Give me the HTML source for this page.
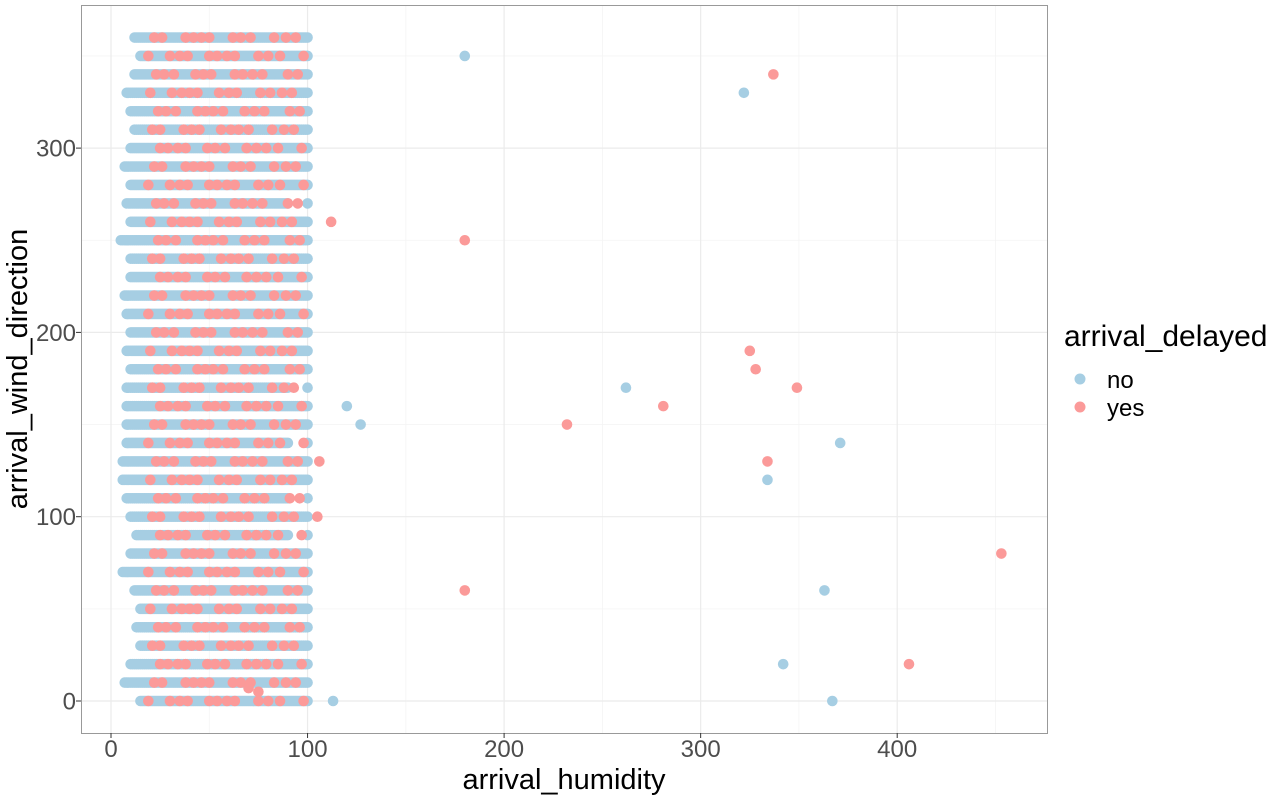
<!DOCTYPE html>
<html><head><meta charset="utf-8"><style>
body{margin:0;background:#fff;font-family:"Liberation Sans",sans-serif}
</style></head><body>
<svg id="chart" width="1280" height="800" xmlns="http://www.w3.org/2000/svg">
<g id="grid"></g>
<g id="band"></g>
<g id="outl"></g>
<rect x="81.5" y="5.5" width="966" height="728" fill="none" stroke="#999" stroke-width="1"/>
<g id="axes"></g>
<text x="564" y="789" font-size="29" text-anchor="middle" fill="#000">arrival_humidity</text>
<text transform="translate(27,369) rotate(-90)" font-size="29" text-anchor="middle" fill="#000">arrival_wind_direction</text>
<g>
<text x="1064" y="346" font-size="30" fill="#000">arrival_delayed</text>
<circle cx="1080" cy="379" r="5.5" fill="#a6cee3"/>
<text x="1107" y="388" font-size="24" fill="#000">no</text>
<circle cx="1080" cy="407" r="5.5" fill="#fb9a99"/>
<text x="1107" y="416" font-size="24" fill="#000">yes</text>
</g>
</svg>
<script>
const xTicks=[0,100,200,300,400];
const yTicks=[0,100,200,300];
const rowDirections=[0,10,20,30,40,50,60,70,80,90,100,110,120,130,140,150,160,170,180,190,200,210,220,230,240,250,260,270,280,290,300,310,320,330,340,350,360];
const rowMinHumidity=[15,7,10,15,13,15,12,6,10,13,10,8,6,6,8,8,8,8,10,8,10,8,7,10,10,5,10,8,10,7,10,12,10,8,12,15,12];
const rowMaxHumidity=[100,100,100,100,100,100,100,100,100,90,100,90,100,100,90,100,100,90,100,100,100,100,100,100,100,100,100,90,100,100,100,100,100,100,100,100,100];
const yesHumidityPattern=[22,28,35,41,47,53,60,66,73,80,88,95];
const outlierNoX=[180,322,262,120,127,371,334,363,342,113,367];
const outlierNoY=[350,330,170,160,150,140,120,60,20,0,0];
const outlierYesX=[337,112,180,325,328,349,281,232,106,334,105,453,180,406,70,75];
const outlierYesY=[340,260,250,190,180,170,160,150,130,130,100,80,60,20,7,5];

const NS="http://www.w3.org/2000/svg";
const sx=v=>111+v*1.9655, sy=v=>701-v*1.843;
const BLUE="#a6cee3", RED="#fb9a99";
function mk(tag,attrs,parent){const e=document.createElementNS(NS,tag);for(const k in attrs)e.setAttribute(k,attrs[k]);parent.appendChild(e);return e;}
const grid=document.getElementById('grid'),axes=document.getElementById('axes');
for(let v=-50;v<=450;v+=100){const x=sx(v);if(x>81&&x<1048){const l=mk('line',{x1:x,x2:x,y1:5,y2:733,stroke:'#f4f4f4','stroke-width':0.8},grid);}}
for(let v=50;v<=350;v+=100){const y=sy(v);const l=mk('line',{x1:81,x2:1048,y1:y,y2:y,stroke:'#f4f4f4','stroke-width':0.8},grid);}
xTicks.forEach(v=>{const x=sx(v);
 const l=mk('line',{x1:x,x2:x,y1:5,y2:733,stroke:'#ebebeb','stroke-width':1.2},grid);
 const t=mk('line',{x1:x,x2:x,y1:733,y2:738,stroke:'#333'},axes);
 const tx=mk('text',{x:x,y:757,'font-size':24,'text-anchor':'middle',fill:'#4d4d4d'},axes);tx.textContent=v;});
yTicks.forEach(v=>{const y=sy(v);
 const l=mk('line',{x1:81,x2:1048,y1:y,y2:y,stroke:'#ebebeb','stroke-width':1.2},grid);
 const t=mk('line',{x1:76,x2:81,y1:y,y2:y,stroke:'#333'},axes);
 const tx=mk('text',{x:76,y:y+8.5,'font-size':24,'text-anchor':'end',fill:'#4d4d4d'},axes);tx.textContent=v;});
const band=document.getElementById('band');
rowDirections.forEach((d,i)=>{
 for(let h=rowMinHumidity[i];h<=rowMaxHumidity[i];h++){
  const c=mk('circle',{cx:sx(h),cy:sy(d),r:5.3,fill:BLUE},band);
  }
 if(rowMaxHumidity[i]<100){const c=mk('circle',{cx:sx(100),cy:sy(d),r:5.3,fill:BLUE},band);}
 yesHumidityPattern.forEach((h,j)=>{const hh=h+((i*3+j*5)%7)-3;if(hh<rowMinHumidity[i]||hh>100)return;
  const c=mk('circle',{cx:sx(hh),cy:sy(d),r:5.3,fill:RED},band);
  });
});
const outl=document.getElementById('outl');
outlierNoX.forEach((x,i)=>{const c=mk('circle',{cx:sx(x),cy:sy(outlierNoY[i]),r:5.3,fill:BLUE},outl);});
outlierYesX.forEach((x,i)=>{const c=mk('circle',{cx:sx(x),cy:sy(outlierYesY[i]),r:5.3,fill:RED},outl);});
</script>
</body></html>
